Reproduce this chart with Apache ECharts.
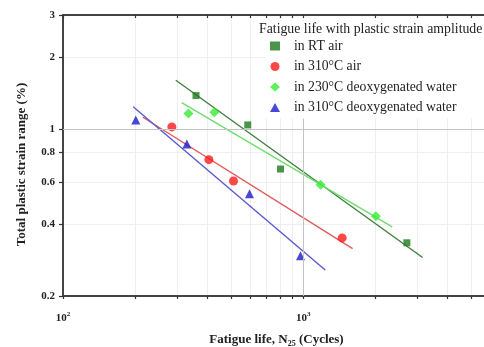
<!DOCTYPE html>
<html>
<head>
<meta charset="utf-8">
<script src="https://cdn.jsdelivr.net/npm/echarts@6/dist/echarts.min.js"></script>
<style>
html,body{margin:0;padding:0;background:#fff;}
#chart{width:484px;height:347px;}
</style>
</head>
<body>
<div id="chart"></div>
<script>
// tick positions
var xTicks = [100, 200, 300, 400, 500, 600, 700, 800, 900, 1000, 2000, 3000, 4000, 5000];
var xLabels = [100, 1000];
var yTicks = [0.2, 0.4, 0.6, 0.8, 1, 2, 3];

var seriesNames = ['in RT air', 'in 310°C air', 'in 230°C deoxygenated water', 'in 310°C deoxygenated water'];

// measured points: fatigue life (cycles) / plastic strain range (%)
var rtAirN = [358, 588, 805, 2704];
var rtAirStrain = [1.38, 1.04, 0.68, 0.334];
var air310N = [284, 405, 513, 1454];
var air310Strain = [1.02, 0.744, 0.606, 0.35];
var water230N = [333, 427, 1182, 2009];
var water230Strain = [1.16, 1.175, 0.584, 0.431];
var water310N = [201, 328, 598, 975];
var water310Strain = [1.09, 0.865, 0.536, 0.295];

// fitted lines (end points)
var rtAirFitN = [295, 3144];
var rtAirFitStrain = [1.60, 0.29];
var air310FitN = [215, 1607];
var air310FitStrain = [1.12, 0.316];
var water230FitN = [312, 2349];
var water230FitStrain = [1.29, 0.389];
var water310FitN = [196, 1236];
var water310FitStrain = [1.24, 0.257];

function pairs(xs, ys){
    var out = [];
    for (var i = 0; i < xs.length; i++) out.push([xs[i], ys[i]]);
    return out;
}

var font = '"Liberation Serif", "DejaVu Serif", serif';
var axisColor = '#444';

var myChart = echarts.init(document.getElementById('chart'));

function fitLine(xs, ys, color){
    return {
        type: 'line', data: pairs(xs, ys), symbol: 'none', silent: true,
        lineStyle: {color: color, width: 1.4}, z: 2
    };
}
function points(name, xs, ys, symbol, size, color){
    return {
        type: 'scatter', name: name, data: pairs(xs, ys),
        symbol: symbol, symbolSize: size, itemStyle: {color: color}, z: 3
    };
}

var option = {
    backgroundColor: '#fff',
    animation: false,
    title: {
        text: 'Fatigue life with plastic strain amplitude',
        left: 257, top: 19, padding: [3, 30, 2, 2], z: 10,
        backgroundColor: '#fff',
        textStyle: {fontFamily: font, fontSize: 13.8, fontWeight: 'normal', color: '#222'}
    },
    legend: {
        data: seriesNames,
        orient: 'vertical',
        left: 266, top: 37, z: 10,
        itemWidth: 10, itemHeight: 9, itemGap: 6.5,
        padding: [2, 40, 4, 4],
        backgroundColor: '#fff',
        textStyle: {fontFamily: font, fontSize: 13.7, lineHeight: 14, color: '#222', padding: [0, 0, 0, 9]}
    },
    grid: {left: 63, top: 15, right: -6, bottom: 51, containLabel: false, outerBoundsMode: 'none'},
    xAxis: [{
        type: 'log', logBase: 10, min: 100, max: 6000,
        name: 'Fatigue life, N{sub|25} (Cycles)',
        nameLocation: 'middle', nameGap: 36,
        nameTextStyle: {
            fontFamily: font, fontSize: 13, fontWeight: 'bold', color: '#222',
            rich: {sub: {fontFamily: font, fontSize: 8, fontWeight: 'bold', verticalAlign: 'bottom', padding: [8, 0, 0, 0]}}
        },
        axisLine: {lineStyle: {color: axisColor, width: 2}},
        axisTick: {customValues: xTicks, length: 3, lineStyle: {color: '#333', width: 1.2}},
        axisLabel: {
            customValues: xLabels, margin: 15,
            formatter: function (v) { return '10{s|' + Math.round(Math.log10(v)) + '}'; },
            fontFamily: font, fontSize: 11, fontWeight: 'bold', color: '#222',
            rich: {s: {fontFamily: font, fontSize: 7, fontWeight: 'bold', color: '#222', padding: [0, 0, 7, 0]}}
        },
        splitLine: {show: true, lineStyle: {color: '#efefef', width: 1}}
    }, {
        type: 'log', logBase: 10, min: 100, max: 6000, position: 'top',
        axisLine: {lineStyle: {color: axisColor, width: 2}},
        axisTick: {customValues: xTicks, inside: true, length: 3, lineStyle: {color: '#333', width: 1.2}},
        axisLabel: {show: false},
        splitLine: {show: false}
    }],
    yAxis: {
        type: 'log', logBase: 10, min: 0.2, max: 3,
        name: 'Total plastic strain range (%)',
        nameLocation: 'middle', nameGap: 35,
        nameTextStyle: {fontFamily: font, fontSize: 13, fontWeight: 'bold', color: '#222', padding: [0, 18, 0, 0]},
        axisLine: {lineStyle: {color: axisColor, width: 2}},
        axisTick: {customValues: yTicks, length: 4, lineStyle: {color: '#333', width: 1.2}},
        axisLabel: {
            customValues: yTicks, margin: 8,
            fontFamily: font, fontSize: 11, fontWeight: 'bold', color: '#222'
        },
        splitLine: {show: true, lineStyle: {color: '#efefef', width: 1}}
    },
    series: [
        fitLine(rtAirFitN, rtAirFitStrain, '#3f7f3f'),
        fitLine(air310FitN, air310FitStrain, '#e05a5a'),
        fitLine(water230FitN, water230FitStrain, '#70dd70'),
        fitLine(water310FitN, water310FitStrain, '#5a5ad0'),
        {
            type: 'line', data: [], silent: true,
            markLine: {
                symbol: 'none', silent: true, label: {show: false},
                lineStyle: {color: '#c4c4c4', width: 1, type: 'solid'},
                data: [
                    [{coord: [1000, 0.2]}, {coord: [1000, 1.2]}],
                    {yAxis: 1}
                ]
            }
        },
        points(seriesNames[0], rtAirN, rtAirStrain, 'rect', 7, '#1e7a1e'),
        points(seriesNames[1], air310N, air310Strain, 'circle', 9, '#ff1a1a'),
        points(seriesNames[2], water230N, water230Strain, 'diamond', 10, '#33ee33'),
        points(seriesNames[3], water310N, water310Strain, 'triangle', 9, '#1a1acc')
    ]
};
myChart.setOption(option);
</script>
</body>
</html>
